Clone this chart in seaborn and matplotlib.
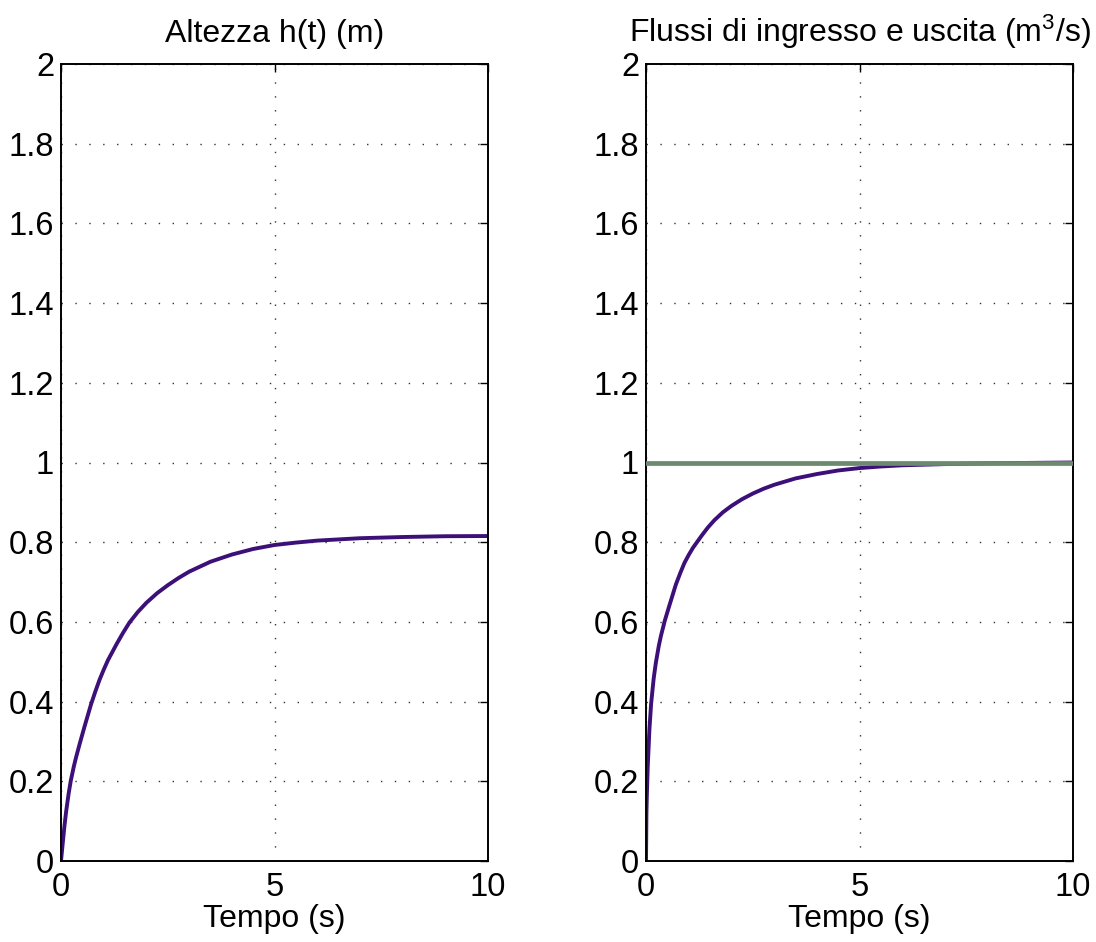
import matplotlib
matplotlib.use("Agg")
import matplotlib.pyplot as plt
import matplotlib.ticker as mticker
import seaborn as sns
import pandas as pd

# Simulation samples (time in seconds)
tempo = [0, 0.01, 0.02, 0.04, 0.08, 0.12, 0.18, 0.23, 0.3, 0.35, 0.44, 0.55,
         0.7, 0.8, 0.9, 1.0, 1.1, 1.3, 1.45, 1.6, 1.8, 2.0, 2.25, 2.5, 2.75,
         3.0, 3.5, 4.0, 4.5, 5.0, 5.5, 6.0, 7.0, 8.0, 9.0, 10.0]

# Tank level h(t) in metres
altezza = [0, 0.011, 0.022, 0.044, 0.087, 0.124, 0.170, 0.202, 0.237, 0.259,
           0.295, 0.337, 0.392, 0.424, 0.454, 0.480, 0.504, 0.544, 0.572,
           0.598, 0.625, 0.648, 0.672, 0.692, 0.710, 0.726, 0.751, 0.769,
           0.783, 0.793, 0.799, 0.804, 0.810, 0.813, 0.815, 0.8155]

# Outflow q_out(t) in m^3/s
portata_uscita = [0, 0.12, 0.165, 0.235, 0.33, 0.395, 0.458, 0.497, 0.54,
                  0.565, 0.603, 0.642, 0.694, 0.722, 0.748, 0.768, 0.786,
                  0.816, 0.837, 0.855, 0.875, 0.891, 0.908, 0.922, 0.934,
                  0.944, 0.960, 0.971, 0.980, 0.986, 0.990, 0.993, 0.996,
                  0.998, 0.999, 1.0]

# Constant inflow q_in in m^3/s
portata_ingresso = [1.0] * len(tempo)

y_ticks = [0, 0.2, 0.4, 0.6, 0.8, 1.0, 1.2, 1.4, 1.6, 1.8, 2.0]
x_ticks = [0, 5, 10]
titoli = ["Altezza h(t) (m)", r"Flussi di ingresso e uscita (m$^{\mathrm{3}}$/s)"]

df = pd.DataFrame({"t": tempo, "h": altezza, "qout": portata_uscita,
                   "qin": portata_ingresso})

sns.set_theme(style="white")
plt.rcParams["font.family"] = ["Liberation Sans", "DejaVu Sans"]
plt.rcParams["mathtext.fontset"] = "custom"
plt.rcParams["mathtext.rm"] = "Liberation Sans"
plt.rcParams["mathtext.it"] = "Liberation Sans"
plt.rcParams["text.color"] = "black"
plt.rcParams["axes.labelcolor"] = "black"
plt.rcParams["xtick.color"] = "black"
plt.rcParams["ytick.color"] = "black"
plt.rcParams["lines.solid_joinstyle"] = "round"

FS_TICK = 23.5
FS_TEXT = 23
viola = "#3c1078"
verde = "#6b8a70"

fig = plt.figure(figsize=(10.96, 9.42), dpi=100)
ax1 = fig.add_axes([61 / 1096, 81 / 942, 427 / 1096, 797 / 942])
ax2 = fig.add_axes([646 / 1096, 81 / 942, 427 / 1096, 797 / 942])

sns.lineplot(data=df, x="t", y="h", ax=ax1, color=viola, linewidth=2.8,
             estimator=None, sort=False)
sns.lineplot(data=df, x="t", y="qout", ax=ax2, color=viola, linewidth=2.8,
             estimator=None, sort=False)
sns.lineplot(data=df, x="t", y="qin", ax=ax2, color=verde, linewidth=3.4,
             estimator=None, sort=False)
ax2.lines[-1].set_zorder(4)

for ax, titolo in zip([ax1, ax2], titoli):
    ax.set_xlim(0, 10)
    ax.set_ylim(0, 2)
    ax.set_xticks(x_ticks)
    ax.set_yticks(y_ticks)
    ax.yaxis.set_major_formatter(mticker.FormatStrFormatter("%g"))
    ax.xaxis.set_major_formatter(mticker.FormatStrFormatter("%g"))
    ax.tick_params(direction="in", length=6, width=1.0, labelsize=FS_TICK,
                   top=True, right=True, color="black", labelcolor="black")
    ax.tick_params(axis="y", pad=5)
    ax.tick_params(axis="x", pad=8)
    ax.grid(True, color="#333333", linestyle=(0, (1, 9)), linewidth=1.0)
    for s in ax.spines.values():
        s.set_color("black")
        s.set_linewidth(1.4)
        s.set_visible(True)
    ax.set_xlabel("Tempo (s)", fontsize=FS_TEXT, labelpad=1, color="black")
    ax.set_ylabel("")
    ax.set_title(titolo, fontsize=FS_TEXT, pad=16, color="black")

fig.savefig("out.png", dpi=100, facecolor="white")
